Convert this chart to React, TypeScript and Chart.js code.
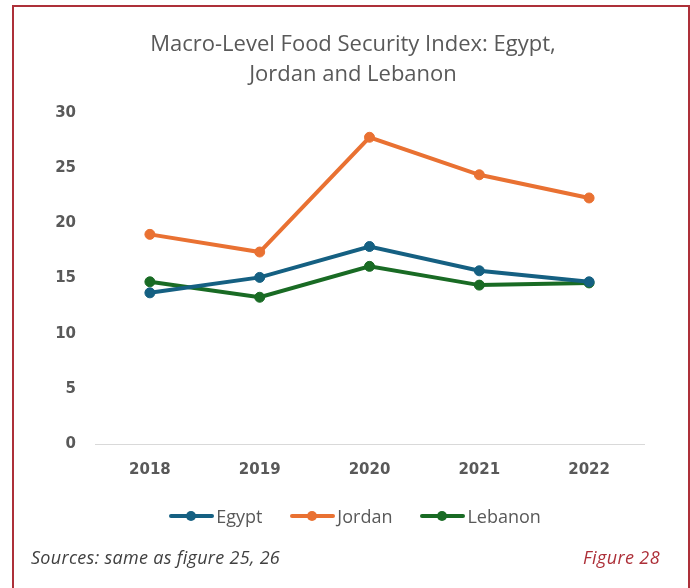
import React, { useEffect, useRef } from "react";
import { Chart, registerables } from "chart.js";

Chart.register(...registerables);

const years = ["2018", "2019", "2020", "2021", "2022"];
const egypt = [13.7, 15.1, 17.9, 15.7, 14.7];
const jordan = [19.0, 17.4, 27.8, 24.4, 22.3];
const lebanon = [14.7, 13.3, 16.1, 14.4, 14.6];
const yTicks = [0, 5, 10, 15, 20, 25, 30];

const seriesNames = ["Egypt", "Jordan", "Lebanon"];
const seriesColors = ["#156082", "#E97132", "#196B24"];
const seriesValues = [egypt, jordan, lebanon];

const titleLines = ["Macro-Level Food Security Index: Egypt,", "Jordan and Lebanon"];

const tickFont = { family: "'DejaVu Sans', sans-serif", size: 15, weight: "bold" as const };

export default function App() {
  const ref = useRef<HTMLCanvasElement | null>(null);

  useEffect(() => {
    if (!ref.current) return;
    const chart = new Chart(ref.current, {
      type: "line",
      data: {
        labels: years,
        datasets: seriesNames.map((name, i) => ({
          label: name,
          data: seriesValues[i],
          borderColor: seriesColors[i],
          backgroundColor: seriesColors[i],
          pointBackgroundColor: seriesColors[i],
          pointBorderColor: seriesColors[i],
          borderWidth: 4,
          pointRadius: 5,
          pointBorderWidth: 1,
          tension: 0,
        })),
      },
      options: {
        responsive: false,
        animation: false,
        layout: { padding: { left: 35, right: 46, top: 113, bottom: 104 } },
        plugins: {
          legend: { display: false },
          title: { display: false },
          tooltip: { enabled: false },
        },
        scales: {
          x: {
            offset: true,
            grid: { display: false, drawTicks: false },
            border: { display: true, color: "#d9d9d9", width: 1 },
            ticks: {
              color: "#595959",
              font: tickFont,
              padding: 17,
            },
            afterFit: (s: any) => {
              s.height = 40;
            },
          },
          y: {
            min: 0,
            max: 30,
            grid: { display: false, drawTicks: false },
            border: { display: false },
            afterBuildTicks: (s: any) => {
              s.ticks = yTicks.map((v) => ({ value: v }));
            },
            ticks: {
              color: "#595959",
              font: tickFont,
              padding: 19,
            },
            afterFit: (s: any) => {
              s.width = 60;
            },
          },
        },
      },
    });
    return () => chart.destroy();
  }, []);

  return (
    <div style={{ position: "absolute", left: 0, top: 0, width: 690, height: 588, overflow: "hidden", background: "#fff" }}>
      <div
        style={{
          position: "absolute",
          left: 12,
          top: 5,
          width: 674,
          height: 600,
          border: "2px solid #ad3039",
        }}
      />
      <canvas ref={ref} width={690} height={588} style={{ position: "absolute", left: 0, top: 0 }} />
      <div
        style={{
          position: "absolute",
          left: 0,
          top: 27,
          width: 706,
          textAlign: "center",
          fontFamily: "'Open Sans', sans-serif",
          fontSize: 22,
          lineHeight: "30px",
          color: "#595959",
        }}
      >
        {titleLines.map((t) => (
          <div key={t}>{t}</div>
        ))}
      </div>
      <div
        style={{
          position: "absolute",
          left: 0,
          top: 504,
          width: 710,
          display: "flex",
          justifyContent: "center",
          gap: 28,
          fontFamily: "'Open Sans', sans-serif",
          fontSize: 18,
          color: "#595959",
          lineHeight: "24px",
        }}
      >
        {seriesNames.map((n, i) => (
          <div key={n} style={{ display: "flex", alignItems: "center" }}>
            <div style={{ position: "relative", width: 45, height: 24, marginRight: 2 }}>
              <div style={{ position: "absolute", left: 0, top: 10, width: 45, height: 4, borderRadius: 2, background: seriesColors[i] }} />
              <div style={{ position: "absolute", left: 17, top: 7, width: 10, height: 10, borderRadius: 5, background: seriesColors[i] }} />
            </div>
            <span>{n}</span>
          </div>
        ))}
      </div>
      <div
        style={{
          position: "absolute",
          left: 31,
          top: 545,
          fontFamily: "'Open Sans', sans-serif",
          fontStyle: "italic",
          fontSize: 18,
          letterSpacing: 0.3,
          color: "#404040",
        }}
      >
        Sources: same as figure 25, 26
      </div>
      <div
        style={{
          position: "absolute",
          right: 30,
          top: 545,
          fontFamily: "'Open Sans', sans-serif",
          fontStyle: "italic",
          fontSize: 18,
          letterSpacing: 0.4,
          color: "#ad3039",
        }}
      >
        Figure 28
      </div>
    </div>
  );
}
